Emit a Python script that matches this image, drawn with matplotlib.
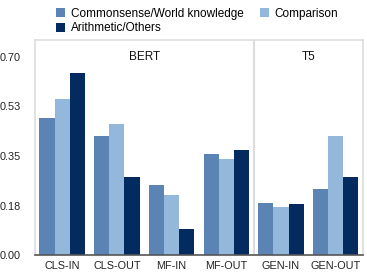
import matplotlib
matplotlib.use("Agg")
import matplotlib.pyplot as plt
from matplotlib.patches import Patch
import numpy as np

categories = ["CLS-IN", "CLS-OUT", "MF-IN", "MF-OUT", "GEN-IN", "GEN-OUT"]
series_names = ["Commonsense/World knowledge", "Comparison", "Arithmetic/Others"]
commonsense = [0.483, 0.420, 0.247, 0.357, 0.185, 0.234]
comparison = [0.550, 0.463, 0.211, 0.338, 0.168, 0.420]
arithmetic = [0.642, 0.274, 0.091, 0.370, 0.181, 0.274]
yticks = [0.0, 0.175, 0.35, 0.525, 0.70]
ytick_labels = ["0.00", "0.18", "0.35", "0.53", "0.70"]
panels = ["BERT", "T5"]

colors = ["#5b84b5", "#94b8dc", "#042b60"]

plt.rcParams['font.family'] = ['Liberation Sans', 'DejaVu Sans']
fig = plt.figure(figsize=(3.67, 2.75), dpi=100)
ax = fig.add_axes([0.095, 0.0727, 0.894, 0.7818])

x = np.arange(len(categories))
w = 0.277
for i, (vals, c) in enumerate(zip([commonsense, comparison, arithmetic], colors)):
    ax.bar(x + (i - 1) * w, vals, width=w, color=c, edgecolor='none', zorder=2)

ax.set_xlim(-0.5, 5.5)
ax.set_ylim(0, 0.76)
ax.set_yticks(yticks)
ax.set_yticklabels(ytick_labels)
ax.set_xticks(x)
ax.set_xticklabels(categories)
ax.tick_params(axis='both', length=0, labelsize=7.8, colors='#222222')
ax.tick_params(axis='y', pad=10)
ax.tick_params(axis='x', pad=4)

for s in ['left', 'top', 'right']:
    ax.spines[s].set_color('#dddddd')
    ax.spines[s].set_linewidth(1.2)
ax.spines['bottom'].set_color('#555555')
ax.spines['bottom'].set_linewidth(1.2)
ax.axvline(3.5, color='#dddddd', linewidth=1.5, zorder=1)

ax.text(1.5, 0.70, panels[0], ha='center', va='center', fontsize=8.5, color='#111111')
ax.text(4.5, 0.70, panels[1], ha='center', va='center', fontsize=8.5, color='#111111')

handles = [Patch(facecolor=colors[0]), Patch(facecolor=colors[2]), Patch(facecolor=colors[1])]
labels = [series_names[0], series_names[2], series_names[1]]
fig.legend(handles, labels, ncol=2, loc='upper left', bbox_to_anchor=(0.1526, 0.971),
           frameon=False, fontsize=8.5, handlelength=0.8, handleheight=0.8,
           handletextpad=0.45, columnspacing=1.4, labelspacing=0.2, borderaxespad=0,
           borderpad=0)

fig.savefig("out.png", dpi=100)
